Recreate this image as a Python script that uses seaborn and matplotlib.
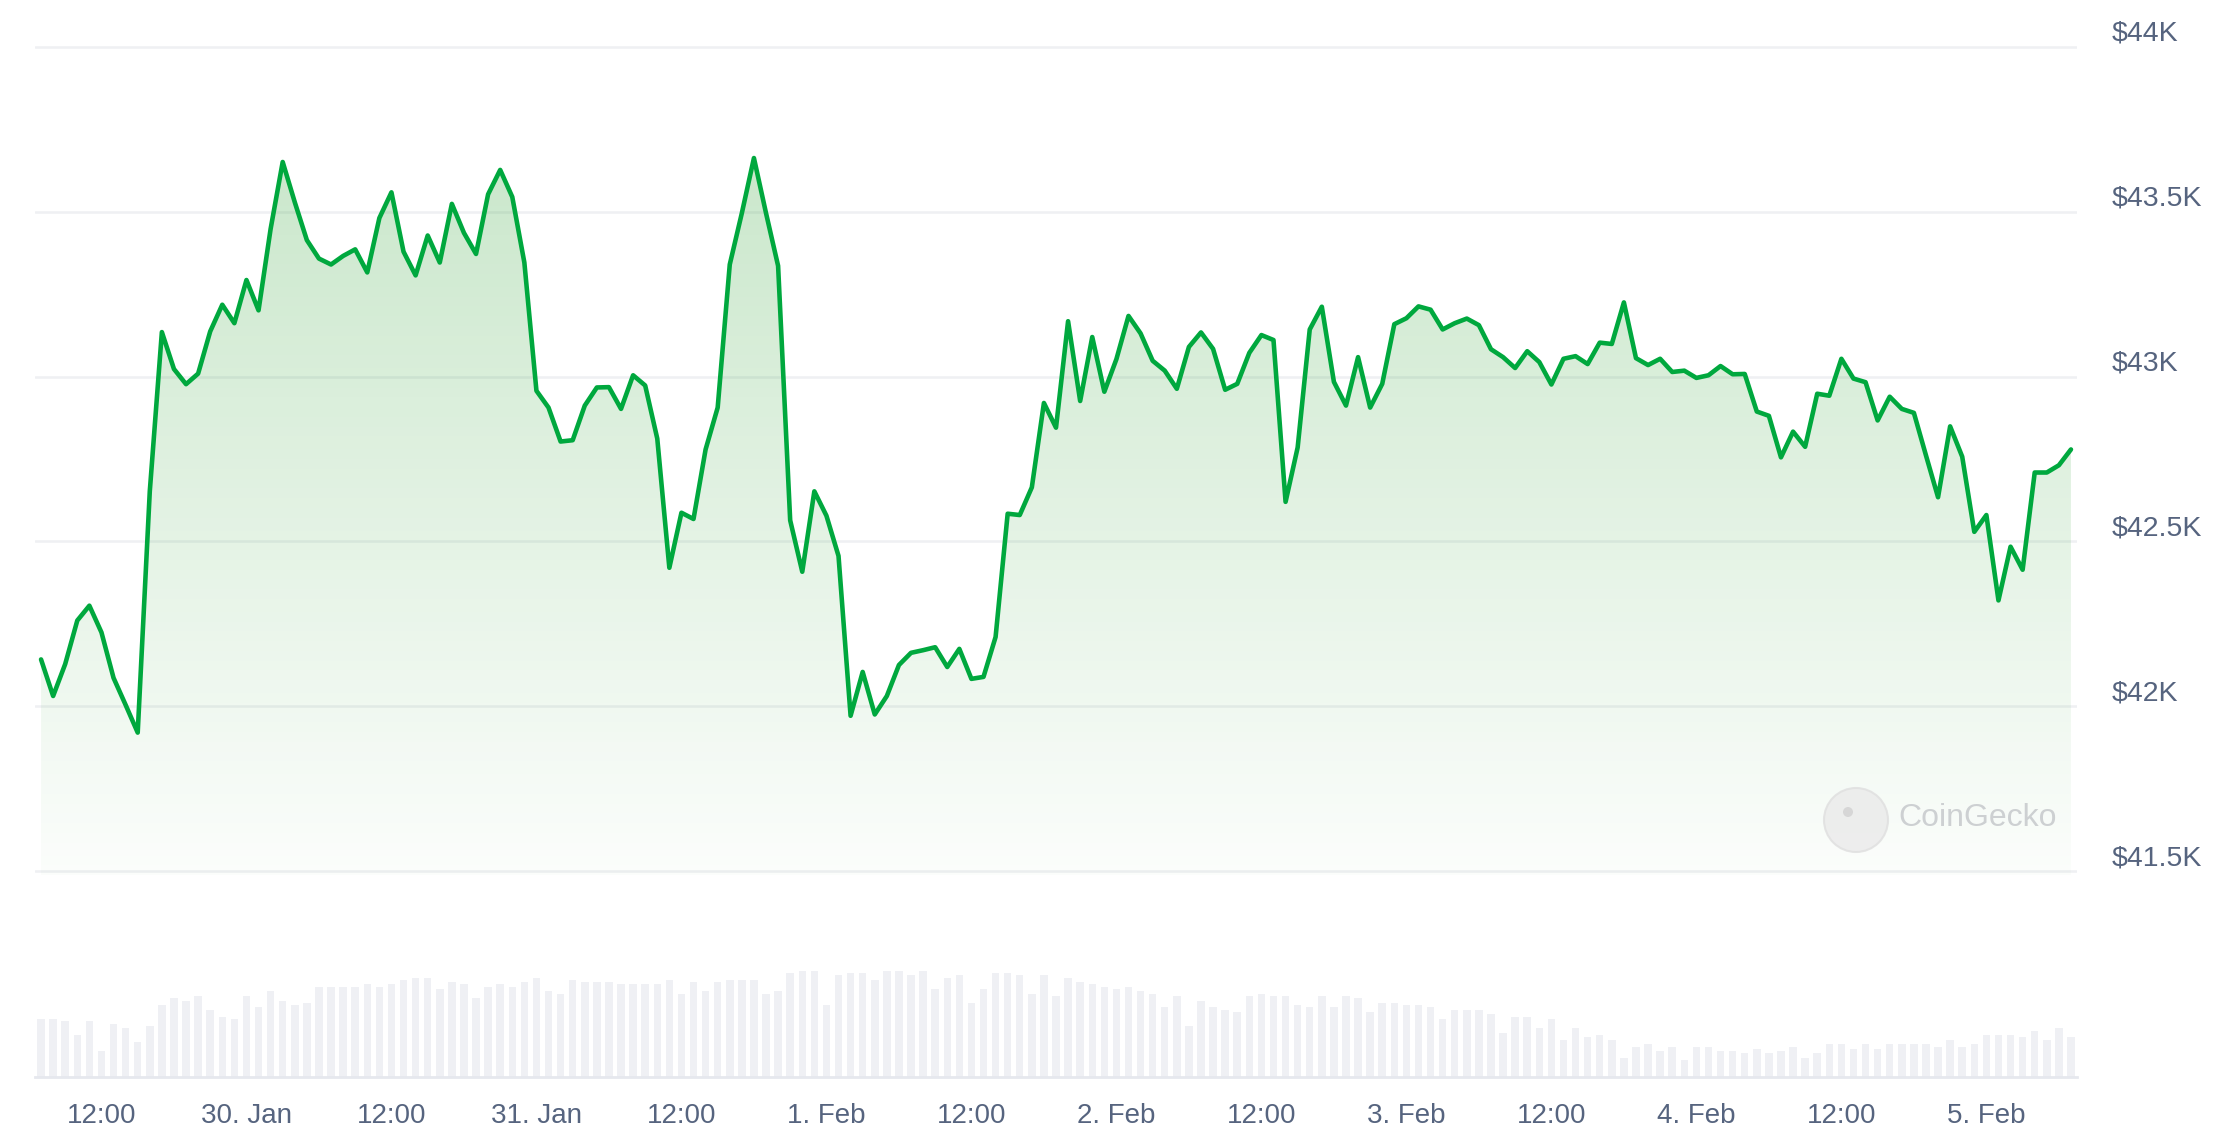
import numpy as np
import pandas as pd
import matplotlib
matplotlib.use("Agg")
import matplotlib.pyplot as plt
import matplotlib.colors as mcolors
from matplotlib.patches import Circle
import seaborn as sns

# BTC hourly price, 29 Jan 07:00 -> 5 Feb 07:00 (2024)
start_time = "2024-01-29 07:00"

price = [
    42142, 42031, 42128, 42260, 42305, 42224, 42086, 42004, 41920, 42652,
    43135, 43023, 42977, 43009, 43137, 43218, 43162, 43293, 43201, 43448,
    43651, 43529, 43414, 43358, 43340, 43366, 43386, 43316, 43481, 43559,
    43379, 43307, 43428, 43346, 43524, 43436, 43372, 43553, 43627, 43545,
    43346, 42957, 42906, 42803, 42807, 42912, 42967, 42968, 42902, 43004,
    42973, 42812, 42420, 42587, 42568, 42779, 42906, 43340, 43496, 43663,
    43496, 43336, 42564, 42408, 42652, 42578, 42456, 41971, 42104, 41975,
    42031, 42125, 42162, 42170, 42179, 42119, 42174, 42083, 42089, 42210,
    42584, 42580, 42664, 42920, 42845, 43168, 42926, 43120, 42954, 43053,
    43184, 43131, 43048, 43018, 42963, 43090, 43134, 43084, 42960, 42978,
    43072, 43126, 43111, 42620, 42785, 43143, 43212, 42984, 42912, 43059,
    42906, 42978, 43159, 43177, 43213, 43203, 43143, 43162, 43176, 43156,
    43083, 43059, 43026, 43077, 43044, 42976, 43054, 43062, 43038, 43103,
    43099, 43225, 43056, 43035, 43054, 43014, 43018, 42996, 43004, 43032,
    43007, 43008, 42894, 42881, 42755, 42833, 42787, 42948, 42942, 43054,
    42994, 42983, 42867, 42939, 42902, 42890, 42761, 42634, 42849, 42757,
    42529, 42580, 42321, 42484, 42414, 42709, 42709, 42731, 42779,
]

# hourly traded volume (relative units)
volume = [
    174, 174, 167, 125, 167, 77, 160, 146, 105, 153,
    215, 236, 229, 243, 202, 181, 174, 243, 209, 257,
    229, 215, 222, 271, 271, 271, 271, 278, 271, 278,
    292, 298, 298, 264, 284, 278, 236, 271, 278, 271,
    284, 298, 257, 250, 292, 284, 284, 284, 278, 278,
    278, 278, 292, 250, 284, 257, 284, 292, 292, 292,
    250, 257, 312, 319, 319, 215, 305, 312, 312, 292,
    319, 319, 305, 319, 264, 298, 305, 222, 264, 312,
    312, 305, 250, 305, 243, 298, 284, 278, 271, 264,
    271, 257, 250, 209, 243, 153, 229, 209, 202, 195,
    243, 250, 243, 243, 215, 209, 243, 209, 243, 236,
    195, 222, 222, 215, 215, 209, 174, 202, 202, 202,
    188, 133, 181, 181, 146, 174, 112, 146, 119, 125,
    112, 57, 91, 98, 77, 91, 50, 91, 91, 77,
    77, 71, 84, 71, 77, 91, 57, 71, 98, 98,
    84, 98, 84, 98, 98, 98, 98, 91, 112, 91,
    98, 125, 125, 125, 119, 139, 112, 146, 119,
]

y_ticks = [41500, 42000, 42500, 43000, 43500, 44000]
y_labels = ["$41.5K", "$42K", "$42.5K", "$43K", "$43.5K", "$44K"]

LINE = "#00a83e"
FILL = "#4caf50"
GRID = "#eff0f3"
BAR = "#eff0f4"
TEXT = "#56647f"

times = pd.date_range(start_time, periods=len(price), freq="h")
hours = np.arange(len(price))

sns.set_theme(style="white")
plt.rcParams["font.family"] = ["Liberation Sans", "DejaVu Sans"]

fig = plt.figure(figsize=(22.18, 11.34), dpi=100)
W, H = 2218, 1134
ax = fig.add_axes([35 / W, 1 - 875 / H, 2042 / W, 832 / H])
ax_v = fig.add_axes([35 / W, 1 - 1077 / H, 2042 / W, 130 / H])

# price line with vertical gradient fill
ymin, ymax = 41488, 44012
poly = ax.fill_between(hours, price, ymin, color="none", linewidth=0)
grad = np.zeros((256, 1, 4))
grad[..., :3] = mcolors.to_rgb(FILL)
grad[..., 3] = np.linspace(0.02, 0.34, 256)[:, None]
im = ax.imshow(grad, aspect="auto", origin="lower", zorder=2,
               extent=[hours[0], hours[-1], ymin, ymax])
im.set_clip_path(poly.get_paths()[0], transform=ax.transData)
sns.lineplot(x=hours, y=price, ax=ax, color=LINE, linewidth=3.3, zorder=4)

ax.set_xlim(-0.5, len(price) - 0.5)
ax.set_ylim(ymin, ymax)
ax.set_yticks(y_ticks)
ax.set_yticklabels(y_labels)
ax.yaxis.tick_right()
ax.tick_params(axis="y", length=0, pad=25, labelsize=20.5, labelcolor=TEXT)
for lbl in ax.get_yticklabels():
    lbl.set_verticalalignment("bottom")
ax.set_xticks([])
ax.grid(axis="y", color=GRID, linewidth=1.8)
ax.set_axisbelow(True)
for s in ax.spines.values():
    s.set_visible(False)
ax.set_xlabel("")
ax.set_ylabel("")

# volume bars
ax_v.bar(hours, volume, width=0.62, color=BAR, linewidth=0)
ax_v.set_xlim(-0.5, len(price) - 0.5)
ax_v.set_ylim(0, 390)
ax_v.set_yticks([])
tick_idx = [i for i, t in enumerate(times) if t.hour in (0, 12)]
tick_lab = [t.strftime("%H:%M") if t.hour == 12 else f"{t.day}. {t.strftime('%b')}"
            for t in times[tick_idx]]
ax_v.set_xticks(tick_idx)
ax_v.set_xticklabels(tick_lab)
ax_v.tick_params(axis="x", length=16, width=1.5, color="#e6e8ee", pad=3,
                 labelsize=20, labelcolor=TEXT)
for side in ["top", "left", "right"]:
    ax_v.spines[side].set_visible(False)
ax_v.spines["bottom"].set_color("#e6e8ee")
ax_v.spines["bottom"].set_linewidth(2)
ax_v.patch.set_alpha(0)

# watermark
fig.patches.append(Circle((18.56, 3.14), 0.32, transform=fig.dpi_scale_trans,
                          facecolor="#ebebeb", edgecolor="#e0e0e0", linewidth=1.5,
                          alpha=0.85, zorder=5))
fig.patches.append(Circle((18.48, 3.22), 0.05, transform=fig.dpi_scale_trans,
                          facecolor="#d6d6d6", edgecolor="none", zorder=6))
fig.text(1898 / W, 1 - 818 / H, "CoinGecko", fontsize=23, color="#cdd0d2",
         va="center", ha="left", zorder=6)

fig.savefig("out.png", dpi=100, facecolor="white")
